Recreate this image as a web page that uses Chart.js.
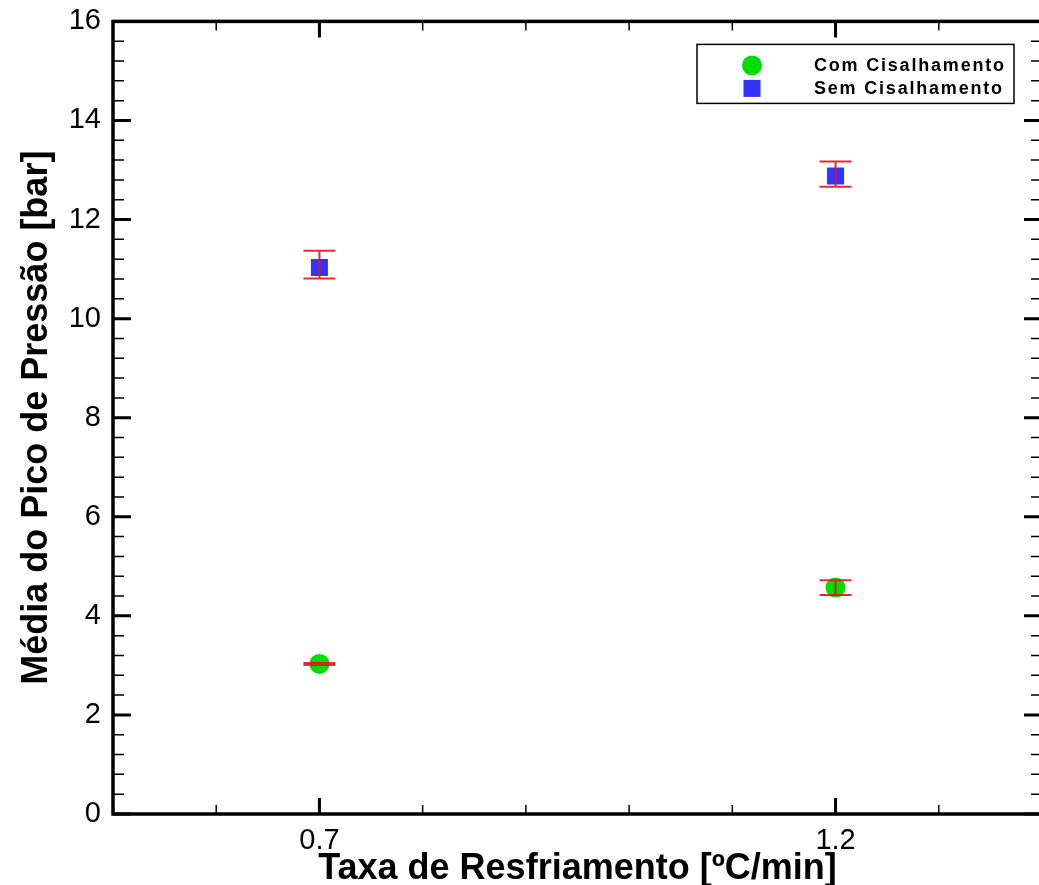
<!DOCTYPE html>
<html>
<head>
<meta charset="utf-8">
<script src="https://cdn.jsdelivr.net/npm/chart.js@4/dist/chart.umd.min.js"></script>
<style>
  html, body { margin: 0; padding: 0; background: #fff; overflow: hidden; }
  #wrap { width: 1054px; height: 885px; position: relative; }
</style>
</head>
<body>
<div id="wrap"><canvas id="chart"></canvas></div>
<script>
// Datos
const taxas = [0.7, 1.2];
const comMedia = [3.03, 4.57];
const comMin = [3.01, 4.42];
const comMax = [3.05, 4.72];
const semMedia = [11.03, 12.88];
const semMin = [10.81, 12.66];
const semMax = [11.37, 13.17];
const xMajor = [0.7, 1.2];

const fonte = "'Liberation Sans', Arial, sans-serif";

const pontos = (ys, lo, hi) => taxas.map((x, i) => ({ x: x, y: ys[i], lo: lo[i], hi: hi[i] }));

// barras de erro
const errorBars = {
  id: 'errorBars',
  afterDatasetsDraw(chart) {
    const { ctx, scales: { x, y } } = chart;
    ctx.save();
    ctx.strokeStyle = 'rgba(225, 20, 30, 0.9)';
    ctx.lineWidth = 2;
    chart.data.datasets.forEach(ds => {
      ds.data.forEach(p => {
        const px = x.getPixelForValue(p.x);
        const yl = y.getPixelForValue(p.lo);
        const yh = y.getPixelForValue(p.hi);
        ctx.beginPath();
        ctx.moveTo(px, yl); ctx.lineTo(px, yh);
        ctx.moveTo(px - 16, yl); ctx.lineTo(px + 16, yl);
        ctx.moveTo(px - 16, yh); ctx.lineTo(px + 16, yh);
        ctx.stroke();
      });
    });
    ctx.restore();
  }
};

// moldura, ticks para dentro e legenda
const frame = {
  id: 'frame',
  afterDraw(chart) {
    const { ctx, chartArea: a, scales: { x, y } } = chart;
    ctx.save();
    ctx.strokeStyle = '#000';
    const isMajorX = v => xMajor.some(m => Math.abs(m - v) < 1e-6);
    const isMajorY = v => Math.abs(v / 2 - Math.round(v / 2)) < 1e-6;
    x.ticks.forEach(t => {
      const px = x.getPixelForValue(t.value);
      const major = isMajorX(t.value);
      const len = major ? 16 : 9;
      ctx.lineWidth = major ? 3 : 1.5;
      ctx.beginPath();
      ctx.moveTo(px, a.bottom); ctx.lineTo(px, a.bottom - len);
      ctx.moveTo(px, a.top); ctx.lineTo(px, a.top + len);
      ctx.stroke();
    });
    y.ticks.forEach(t => {
      const py = y.getPixelForValue(t.value);
      const major = isMajorY(t.value);
      const len = major ? 18 : 11;
      ctx.lineWidth = major ? 3 : 1.5;
      ctx.beginPath();
      ctx.moveTo(a.left, py); ctx.lineTo(a.left + len, py);
      ctx.moveTo(a.right, py); ctx.lineTo(a.right - len, py);
      ctx.stroke();
    });
    ctx.lineWidth = 3.5;
    ctx.strokeRect(a.left, a.top, a.right - a.left, a.bottom - a.top);

    // legenda
    const bw = 317, bh = 59;
    const bx = a.right - 28 - bw, by = a.top + 23;
    ctx.fillStyle = '#fff';
    ctx.fillRect(bx, by, bw, bh);
    ctx.lineWidth = 1.5;
    ctx.strokeRect(bx, by, bw, bh);
    ctx.font = 'bold 18px ' + fonte;
    ctx.letterSpacing = '1.8px';
    ctx.textBaseline = 'middle';
    chart.data.datasets.forEach((ds, i) => {
      const cy = by + 21 + i * 23;
      const cx = bx + 55;
      ctx.fillStyle = ds.backgroundColor;
      if (ds.pointStyle === 'rect') {
        ctx.fillRect(cx - 8.5, cy - 8.5, 17, 17);
      } else {
        ctx.beginPath();
        ctx.arc(cx, cy, 10, 0, Math.PI * 2);
        ctx.fill();
      }
      ctx.fillStyle = '#000';
      ctx.textAlign = 'left';
      ctx.fillText(ds.label, bx + 117, cy + 1);
    });
    ctx.restore();
  }
};

new Chart(document.getElementById('chart'), {
  type: 'scatter',
  data: {
    datasets: [
      {
        label: 'Com Cisalhamento',
        data: pontos(comMedia, comMin, comMax),
        pointStyle: 'circle',
        pointRadius: 10,
        pointHoverRadius: 10,
        backgroundColor: '#00dd00',
        borderColor: '#00dd00',
        borderWidth: 0
      },
      {
        label: 'Sem Cisalhamento',
        data: pontos(semMedia, semMin, semMax),
        pointStyle: 'rect',
        pointRadius: 12,
        pointHoverRadius: 12,
        backgroundColor: '#3333ff',
        borderColor: '#3333ff',
        borderWidth: 0
      }
    ]
  },
  options: {
    responsive: true,
    maintainAspectRatio: false,
    animation: false,
    layout: { padding: { top: 12, right: 3, left: 0, bottom: 0 } },
    plugins: { legend: { display: false }, tooltip: { enabled: false } },
    scales: {
      x: {
        type: 'linear',
        min: 0.5,
        max: 1.4,
        afterFit: s => { s.height = 71; },
        grid: { display: false },
        border: { display: false },
        ticks: {
          stepSize: 0.1,
          autoSkip: false,
          maxRotation: 0,
          padding: 2,
          color: '#000',
          font: { family: fonte, size: 29 },
          callback: v => xMajor.some(m => Math.abs(m - v) < 1e-6) ? v.toFixed(1) : ''
        },
        title: {
          display: true,
          text: 'Taxa de Resfriamento [ºC/min]',
          color: '#000',
          font: { family: fonte, size: 36, weight: 'bold' },
          padding: { top: -6, bottom: -6 }
        }
      },
      y: {
        min: 0,
        max: 16,
        afterFit: s => { s.width = 113; },
        grid: { display: false },
        border: { display: false },
        ticks: {
          stepSize: 0.4,
          autoSkip: false,
          padding: 4,
          color: '#000',
          font: { family: fonte, size: 29 },
          callback: v => Math.abs(v / 2 - Math.round(v / 2)) < 1e-6 ? String(Math.round(v)) : ''
        },
        title: {
          display: true,
          text: 'Média do Pico de Pressão [bar]',
          color: '#000',
          font: { family: fonte, size: 36, weight: 'bold' },
          padding: { top: 15, bottom: 0 }
        }
      }
    }
  },
  plugins: [errorBars, frame]
});
</script>
</body>
</html>
